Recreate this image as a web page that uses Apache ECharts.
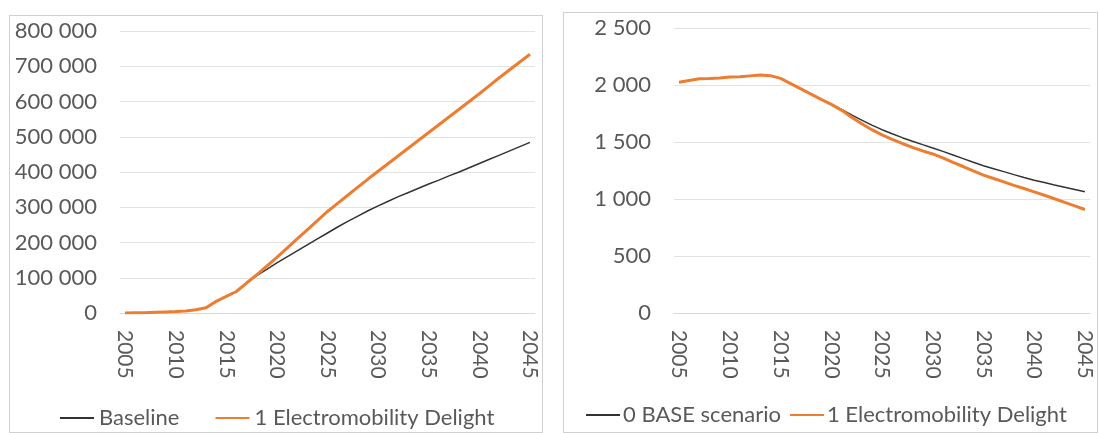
<!DOCTYPE html>
<html>
<head>
<meta charset="utf-8">
<script src="https://cdn.jsdelivr.net/npm/echarts@6/dist/echarts.min.js"></script>
<style>
  html, body { margin: 0; padding: 0; background: #fff; }
  .panel { position: absolute; box-sizing: border-box; border: 1px solid #d0d0d0; }
  #left { left: 9px; top: 15px; width: 534px; height: 418px; }
  #right { left: 563px; top: 12px; width: 535px; height: 421px; }
</style>
</head>
<body>
<div id="left" class="panel"></div>
<div id="right" class="panel"></div>
<script>
// years on the category axis
const years = [];
for (let y = 2005; y <= 2045; y++) years.push(String(y));

// left chart (thousands)
const baselineK = [0, 0.5, 1, 2, 3, 4, 6, 9, 15, 33, 47, 61, 85, 106, 124, 142, 159, 176, 193, 210,
  227, 244, 260, 275, 290, 304, 317, 330, 342, 354, 366, 377, 389, 400, 412, 424, 436, 448, 460, 472, 484]
const delightK = [0, 0.5, 1, 2, 3, 4, 6, 9, 15, 33, 47, 61, 85, 108, 133, 158, 184, 210, 236, 262,
  288, 311, 334, 357, 380, 402, 424, 446, 468, 490, 512, 534, 556, 578, 600, 622, 645, 668, 690, 712, 734]

// right chart
const baseScenario = [2025, 2040, 2055, 2058, 2062, 2070, 2072, 2080, 2088, 2082, 2058, 2012, 1966, 1920, 1874, 1830,
  1785, 1738, 1692, 1648, 1608, 1572, 1538, 1507, 1477, 1448, 1418, 1386, 1354, 1322, 1292, 1266, 1240, 1214, 1189,
  1165, 1144, 1123, 1103, 1083, 1063]
const delightRight = [2025, 2040, 2055, 2058, 2062, 2070, 2072, 2080, 2088, 2082, 2058, 2012, 1966, 1920, 1874, 1830,
  1780, 1718, 1660, 1608, 1563, 1524, 1487, 1453, 1422, 1395, 1360, 1322, 1285, 1246, 1210, 1180, 1150, 1120, 1092,
  1063, 1033, 1002, 970, 940, 908]

const FONT = 'Lato'
const TXT = '#595959'
const BLACK = '#333333'
const ORANGE = '#ED7D31'

function spaced (v) {
  return String(v).replace(/\B(?=(\d{3})+(?!\d))/g, ' ')
}

function makeOption (names, dataA, dataB, yMax, yStep, legendLeft, legendGap, iconGap) {
  return {
    animation: false,
    textStyle: { fontFamily: FONT },
    grid: { left: 110, right: 7, top: 15, bottom: 119 },
    legend: {
      left: legendLeft,
      top: 386,
      width: 530,
      icon: 'rect',
      itemWidth: 34,
      itemHeight: 2,
      itemGap: legendGap,
      textStyle: { fontFamily: FONT, fontSize: 22, color: TXT, padding: [0, 0, 0, iconGap - 5] },
      data: names
    },
    xAxis: {
      type: 'category',
      boundaryGap: true,
      data: years,
      axisLine: { show: true, lineStyle: { color: '#d9d9d9' } },
      axisTick: { show: false },
      axisLabel: {
        interval: 4,
        rotate: -90,
        margin: 17,
        fontFamily: FONT,
        fontSize: 21,
        color: TXT
      }
    },
    yAxis: {
      type: 'value',
      min: 0,
      max: yMax,
      interval: yStep,
      axisLine: { show: false },
      axisTick: { show: false },
      splitLine: { lineStyle: { color: '#e3e3e3' } },
      axisLabel: {
        margin: 23,
        fontFamily: FONT,
        fontSize: 22,
        color: TXT,
        formatter: spaced
      }
    },
    series: [
      {
        name: names[0],
        type: 'line',
        data: dataA,
        showSymbol: false,
        lineStyle: { color: BLACK, width: 1.5 },
        itemStyle: { color: BLACK },
        z: 2
      },
      {
        name: names[1],
        type: 'line',
        data: dataB,
        showSymbol: false,
        lineStyle: { color: ORANGE, width: 3 },
        itemStyle: { color: ORANGE },
        z: 3
      }
    ]
  }
}

const leftChart = echarts.init(document.getElementById('left'))
leftChart.setOption(makeOption(['Baseline', '1 Electromobility Delight'],
  baselineK.map(v => v * 1000), delightK.map(v => v * 1000), 800000, 100000, 45, 36, 5))

const rightChart = echarts.init(document.getElementById('right'))
rightChart.setOption(makeOption(['0 BASE scenario', '1 Electromobility Delight'],
  baseScenario, delightRight, 2500, 500, 17, 9, 3))
</script>
</body>
</html>
